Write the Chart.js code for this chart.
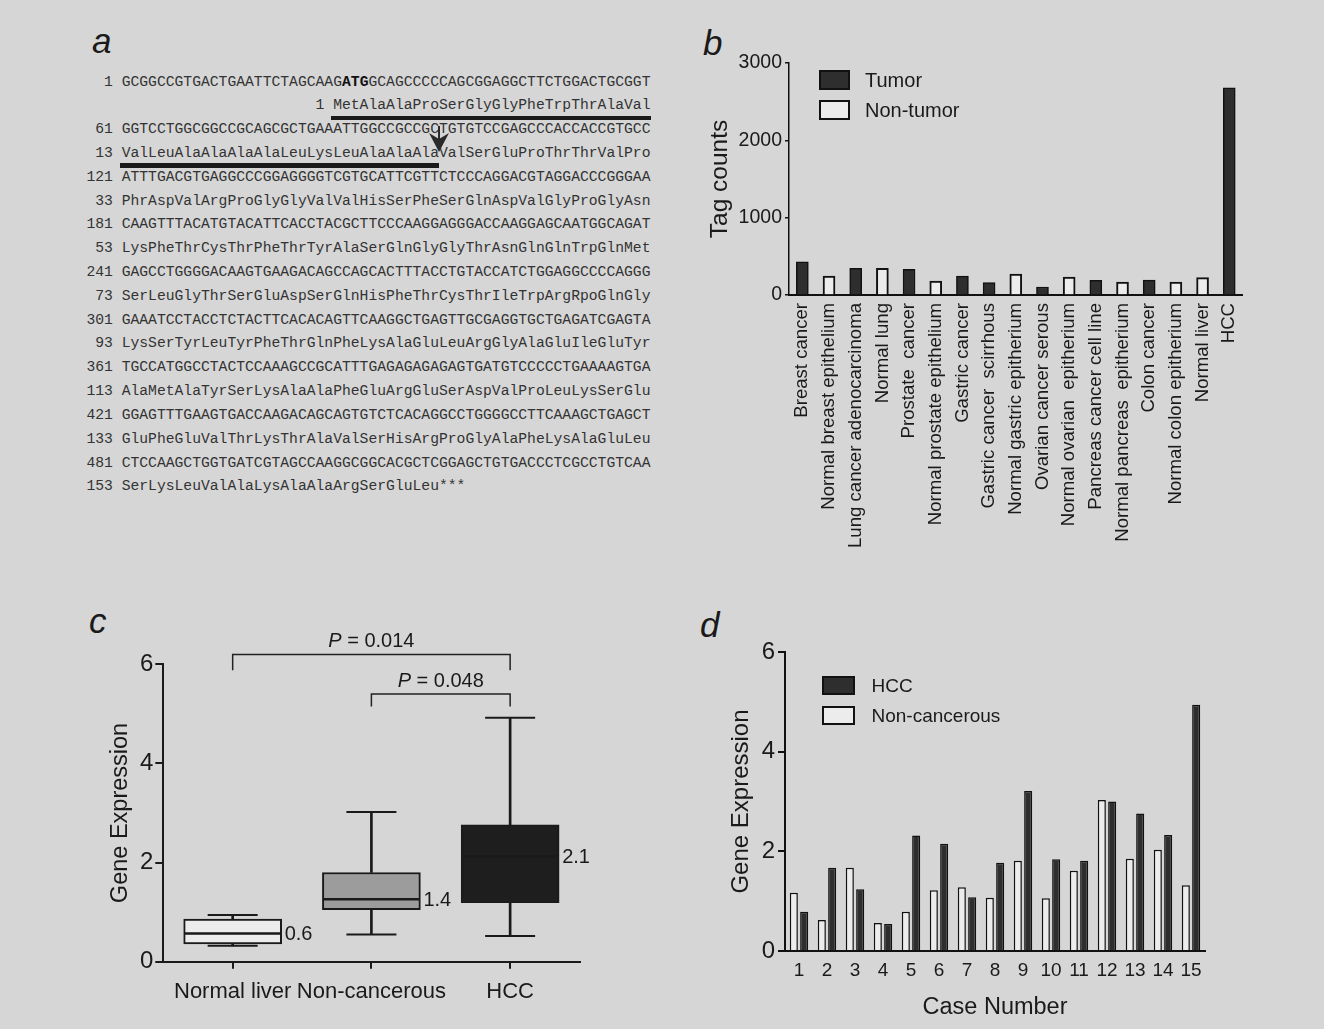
<!DOCTYPE html>
<html><head><meta charset="utf-8">
<script src="https://cdn.jsdelivr.net/npm/chart.js"></script>
<style>
html,body{margin:0;padding:0;}
body{width:1324px;height:1029px;background:#d6d6d6;position:relative;overflow:hidden;font-family:"Liberation Sans",Arial,sans-serif;color:#1a1a1a;}
.pl{position:absolute;font-style:italic;font-size:35px;line-height:35px;color:#1a1a1a;}
#seq{position:absolute;font-family:"Liberation Mono",monospace;font-size:14.7px;line-height:23.82px;white-space:pre;color:#333;}
#seq b{font-weight:bold;color:#111;}
.ul{position:absolute;background:#1a1a1a;height:4.5px;}
canvas{position:absolute;}
</style></head>
<body>
<div class="pl" style="left:92px;top:23px">a</div>
<div class="pl" style="left:703px;top:25px">b</div>
<div class="pl" style="left:89px;top:603px">c</div>
<div class="pl" style="left:700px;top:607px">d</div>
<div id="seq"></div>
<canvas id="chartB" width="560" height="560" style="left:700px;top:20px"></canvas>
<canvas id="chartC" width="540" height="420" style="left:90px;top:600px"></canvas>
<canvas id="chartD" width="560" height="425" style="left:690px;top:600px"></canvas>
<script>
// ---------- Panel a: sequence ----------
const seqNumbers = ['1','1','61','13','121','33','181','53','241','73','301','93','361','113','421','133','481','153'];
const seqTexts = [
  'GCGGCCGTGACTGAATTCTAGCAAGATGGCAGCCCCCAGCGGAGGCTTCTGGACTGCGGT',
  'MetAlaAlaProSerGlyGlyPheTrpThrAlaVal',
  'GGTCCTGGCGGCCGCAGCGCTGAAATTGGCCGCCGCTGTGTCCGAGCCCACCACCGTGCC',
  'ValLeuAlaAlaAlaAlaLeuLysLeuAlaAlaAlaValSerGluProThrThrValPro',
  'ATTTGACGTGAGGCCCGGAGGGGTCGTGCATTCGTTCTCCCAGGACGTAGGACCCGGGAA',
  'PhrAspValArgProGlyGlyValValHisSerPheSerGlnAspValGlyProGlyAsn',
  'CAAGTTTACATGTACATTCACCTACGCTTCCCAAGGAGGGACCAAGGAGCAATGGCAGAT',
  'LysPheThrCysThrPheThrTyrAlaSerGlnGlyGlyThrAsnGlnGlnTrpGlnMet',
  'GAGCCTGGGGACAAGTGAAGACAGCCAGCACTTTACCTGTACCATCTGGAGGCCCCAGGG',
  'SerLeuGlyThrSerGluAspSerGlnHisPheThrCysThrIleTrpArgRpoGlnGly',
  'GAAATCCTACCTCTACTTCACACAGTTCAAGGCTGAGTTGCGAGGTGCTGAGATCGAGTA',
  'LysSerTyrLeuTyrPheThrGlnPheLysAlaGluLeuArgGlyAlaGluIleGluTyr',
  'TGCCATGGCCTACTCCAAAGCCGCATTTGAGAGAGAGAGTGATGTCCCCCTGAAAAGTGA',
  'AlaMetAlaTyrSerLysAlaAlaPheGluArgGluSerAspValProLeuLysSerGlu',
  'GGAGTTTGAAGTGACCAAGACAGCAGTGTCTCACAGGCCTGGGGCCTTCAAAGCTGAGCT',
  'GluPheGluValThrLysThrAlaValSerHisArgProGlyAlaPheLysAlaGluLeu',
  'CTCCAAGCTGGTGATCGTAGCCAAGGCGGCACGCTCGGAGCTGTGACCCTCGCCTGTCAA',
  'SerLysLeuValAlaLysAlaAlaArgSerGluLeu***'
];
// layout of panel a
const seqLeft = 86.4, seqTop = 70.5, charW = 8.82, rowH = 23.82;
const seqIndent = {1: 24};
const seqBold = {0: [25, 28]};
(function(){
  const el = document.getElementById('seq');
  el.style.left = seqLeft + 'px'; el.style.top = seqTop + 'px';
  const esc = s => s.replace(/&/g,'&amp;').replace(/</g,'&lt;');
  const lines = seqTexts.map((t, i) => {
    const n = seqNumbers[i];
    let body;
    if (seqBold[i]) { const [a,b] = seqBold[i]; body = esc(t.slice(0,a)) + '<b>' + esc(t.slice(a,b)) + '</b>' + esc(t.slice(b)); }
    else body = esc(t);
    if (seqIndent[i] !== undefined) return ' '.repeat(4 + seqIndent[i] - (n.length + 1)) + n + ' ' + body;
    return n.padStart(3, ' ') + ' ' + body;
  });
  el.innerHTML = lines.join('\n');
  // underlines (signal peptide marking)
  const uls = [[1, 28, 64], [3, 4, 40]];
  uls.forEach(([row, c0, c1]) => {
    const d = document.createElement('div'); d.className = 'ul';
    d.style.left = (seqLeft + c0 * charW - 2) + 'px';
    d.style.width = ((c1 - c0) * charW + 2) + 'px';
    d.style.top = (seqTop + row * rowH + rowH - 2.5) + 'px';
    document.body.appendChild(d);
  });
  // arrow
  const ax = seqLeft + 40 * charW;
  const svg = document.createElementNS('http://www.w3.org/2000/svg','svg');
  svg.setAttribute('width','26'); svg.setAttribute('height','28');
  svg.style.position='absolute'; svg.style.left=(ax-13)+'px'; svg.style.top='126px';
  svg.innerHTML = '<path d="M13 0 V16" stroke="#2a2a2a" stroke-width="2"/><path d="M3 7 L13 26 L23 7 L13 13 Z" fill="#2a2a2a"/>';
  document.body.appendChild(svg);
})();

// ---------- Chart defaults ----------
Chart.defaults.font.family = '"Liberation Sans", Arial, sans-serif';
Chart.defaults.color = '#1a1a1a';
const plainTick = v => String(v);

const boxLegend = {
  id: 'boxLegend',
  afterDraw(chart, args, opts) {
    const {ctx, chartArea} = chart;
    ctx.save();
    opts.items.forEach((dsIndex, i) => {
      const ds = chart.data.datasets[dsIndex];
      const x = chartArea.left + opts.dx, y = chartArea.top + opts.dy + i * opts.gap;
      ctx.fillStyle = ds.backgroundColor; ctx.fillRect(x, y, opts.w, opts.h);
      ctx.lineWidth = opts.lw; ctx.strokeStyle = '#111'; ctx.strokeRect(x, y, opts.w, opts.h);
      ctx.font = opts.font; ctx.fillStyle = '#1a1a1a'; ctx.textBaseline = 'middle'; ctx.textAlign = 'left';
      ctx.fillText(ds.label, x + opts.textDx, y + opts.h / 2 + 1);
    });
    ctx.restore();
  }
};

// ---------- Panel b ----------
const tagCategories = ['Breast cancer','Normal breast epithelium','Lung cancer adenocarcinoma','Normal lung','Prostate  cancer','Normal prostate epithelium','Gastric cancer','Gastric cancer  scirrhous','Normal gastric epitherium','Ovarian cancer serous','Normal ovarian  epitherium','Pancreas cancer cell line','Normal pancreas  epitherium','Colon cancer','Normal colon epitherium','Normal liver','HCC'];
const tumorCounts    = [430, null, 345, null, 332, null, 245, 160, null, 103, null, 190, null, 192, null, null, 2680];
const nonTumorCounts = [null, 245, null, 345, null, 181, null, null, 270, null, 233, null, 166, null, 166, 224, null];
const tagTicks = [0, 1000, 2000, 3000];

new Chart(document.getElementById('chartB'), {
  type: 'bar',
  data: { labels: tagCategories, datasets: [
    {label:'Tumor', data: tumorCounts, backgroundColor:'#2e2e2e', borderColor:'#111', borderWidth:1.5, grouped:false, barThickness:12},
    {label:'Non-tumor', data: nonTumorCounts, backgroundColor:'#ececec', borderColor:'#111', borderWidth:2, grouped:false, barThickness:12}
  ]},
  options: {
    responsive:false, animation:false,
    layout:{padding:{left:0, top:43, right:15, bottom:0}},
    plugins:{legend:{display:false}, tooltip:{enabled:false},
      boxLegend:{items:[0,1], dx:31, dy:8, gap:30, w:29, h:18, lw:2, textDx:45, font:'20px "Liberation Sans", Arial, sans-serif'}},
    scales:{
      x:{ offset:true, grid:{display:false, drawTicks:false}, border:{display:true, color:'#111', width:2},
          ticks:{autoSkip:false, maxRotation:90, minRotation:90, padding:8, font:{size:18.6}},
          afterFit: s => { s.height = 285; } },
      y:{ min:0, max:3000, afterBuildTicks: s => { s.ticks = tagTicks.map(v => ({value:v})); },
          grid:{drawOnChartArea:false, drawTicks:true, tickLength:4, color:'#111', lineWidth:1.5},
          border:{display:true, color:'#111', width:1.5},
          ticks:{padding:3, font:{size:19.5}, callback: plainTick},
          title:{display:true, text:'Tag counts', font:{size:24.5}, padding:{top:5.4, bottom:0}},
          afterFit: s => { s.width = 89; } }
    }
  },
  plugins:[boxLegend]
});

// ---------- Panel c ----------
const exprGroups = ['Normal liver','Non-cancerous','HCC'];
const exprMin    = [0.32, 0.55, 0.52];
const exprQ1     = [0.36, 1.05, 1.19];
const exprMedian = [0.57, 1.26, 2.12];
const exprQ3     = [0.86, 1.80, 2.76];
const exprMax    = [0.94, 3.02, 4.92];
const exprMeanLabels = ['0.6','1.4','2.1'];
const exprTicks = [0, 2, 4, 6];
const pValues = ['0.014','0.048'];
const pPairs = [['Normal liver','HCC'],['Non-cancerous','HCC']];
// annotation geometry (data units)
const bracketGeom = [{top:6.2, foot:5.88}, {top:5.4, foot:5.15}];

const bracketDatasets = pPairs.map((pair, i) => ({
  type:'line', label:'P bracket ' + i,
  data:[{x:pair[0], y:bracketGeom[i].foot},{x:pair[0], y:bracketGeom[i].top},{x:pair[1], y:bracketGeom[i].top},{x:pair[1], y:bracketGeom[i].foot}],
  borderColor:'#222', borderWidth:1.5, pointRadius:0, tension:0, clip:false, order:0, fill:false
}));

const boxLabels = {
  id:'boxLabels',
  afterDatasetsDraw(chart) {
    const {ctx, scales:{x, y}} = chart;
    const boxMeta = chart.getDatasetMeta(3);
    ctx.save(); ctx.fillStyle = '#1a1a1a'; ctx.textBaseline = 'middle'; ctx.textAlign = 'left';
    ctx.font = '20px "Liberation Sans", Arial, sans-serif';
    exprMeanLabels.forEach((t, i) => {
      const bar = boxMeta.data[i];
      ctx.fillText(t, bar.x + bar.width / 2 + 3, y.getPixelForValue(exprMedian[i]) + 1);
    });
    pValues.forEach((p, i) => {
      const x0 = x.getPixelForValue(exprGroups.indexOf(pPairs[i][0]));
      const x1 = x.getPixelForValue(exprGroups.indexOf(pPairs[i][1]));
      const cx = (x0 + x1) / 2, cy = y.getPixelForValue(bracketGeom[i].top) - 13;
      const fi = 'italic 20px "Liberation Sans", Arial, sans-serif', fr = '20px "Liberation Sans", Arial, sans-serif';
      ctx.font = fi; const wP = ctx.measureText('P').width;
      const rest = ' = ' + p;
      ctx.font = fr; const wR = ctx.measureText(rest).width;
      const sx = cx - (wP + wR) / 2;
      ctx.font = fi; ctx.fillText('P', sx, cy);
      ctx.font = fr; ctx.fillText(rest, sx + wP, cy);
    });
    ctx.restore();
  }
};

new Chart(document.getElementById('chartC'), {
  type:'bar',
  data:{ labels: exprGroups, datasets:[
    {type:'line', label:'median', data: exprMedian, showLine:false, pointStyle:'line', pointRadius:48, pointBorderWidth:2.5, pointBorderColor:'#1a1a1a', order:0},
    {type:'line', label:'min', data: exprMin, showLine:false, pointStyle:'line', pointRadius:25, pointBorderWidth:2, pointBorderColor:'#1a1a1a', order:0},
    {type:'line', label:'max', data: exprMax, showLine:false, pointStyle:'line', pointRadius:25, pointBorderWidth:2, pointBorderColor:'#1a1a1a', order:0},
    {label:'box', data: exprQ1.map((q, i) => [q, exprQ3[i]]), backgroundColor:['#ececec','#9c9c9c','#1e1e1e'], borderColor:'#1a1a1a', borderWidth:2, borderSkipped:false, barThickness:98, grouped:false, order:1},
    {label:'whisker low', data: exprMin.map((m, i) => [m, exprQ1[i]]), backgroundColor:'#1a1a1a', borderWidth:0, barThickness:2, grouped:false, order:2},
    {label:'whisker high', data: exprQ3.map((q, i) => [q, exprMax[i]]), backgroundColor:'#1a1a1a', borderWidth:0, barThickness:2, grouped:false, order:2},
    ...bracketDatasets
  ]},
  options:{
    responsive:false, animation:false,
    layout:{padding:{left:0, top:64.3, right:28, bottom:0}},
    plugins:{legend:{display:false}, tooltip:{enabled:false}},
    scales:{
      x:{ offset:true, grid:{drawOnChartArea:false, drawTicks:true, tickLength:7, offset:false, color:'#1a1a1a', lineWidth:2},
          border:{display:true, color:'#1a1a1a', width:2},
          ticks:{padding:10, font:{size:22}, maxRotation:0, minRotation:0, autoSkip:false},
          afterFit: s => { s.height = 58.3; } },
      y:{ min:0, max:6, afterBuildTicks: s => { s.ticks = exprTicks.map(v => ({value:v})); },
          grid:{drawOnChartArea:false, drawTicks:true, tickLength:8, color:'#1a1a1a', lineWidth:2},
          border:{display:true, color:'#1a1a1a', width:2},
          ticks:{padding:2, font:{size:24}, callback: plainTick},
          title:{display:true, text:'Gene Expression', font:{size:23.5}, padding:{top:16, bottom:0}},
          afterFit: s => { s.width = 73.3; } }
    }
  },
  plugins:[boxLabels]
});

// ---------- Panel d ----------
const caseNumbers = ['1','2','3','4','5','6','7','8','9','10','11','12','13','14','15'];
const nonCancerExpr = [1.17, 0.62, 1.67, 0.56, 0.79, 1.22, 1.28, 1.07, 1.81, 1.06, 1.61, 3.03, 1.85, 2.03, 1.32];
const hccExpr       = [0.79, 1.67, 1.24, 0.54, 2.32, 2.15, 1.08, 1.77, 3.21, 1.84, 1.81, 3.00, 2.76, 2.33, 4.94];
const caseTicks = [0, 2, 4, 6];

new Chart(document.getElementById('chartD'), {
  type:'bar',
  data:{ labels: caseNumbers, datasets:[
    {label:'Non-cancerous', data: nonCancerExpr, backgroundColor:'#ececec', borderColor:'#111', borderWidth:1.5, categoryPercentage:0.74, barPercentage:0.78},
    {label:'HCC', data: hccExpr, backgroundColor:'#2e2e2e', borderColor:'#111', borderWidth:1.5, categoryPercentage:0.74, barPercentage:0.78}
  ]},
  options:{
    responsive:false, animation:false,
    layout:{padding:{left:0, top:52, right:45, bottom:0}},
    plugins:{legend:{display:false}, tooltip:{enabled:false},
      boxLegend:{items:[1,0], dx:38, dy:25, gap:30, w:31, h:17, lw:2, textDx:48.5, font:'19px "Liberation Sans", Arial, sans-serif'}},
    scales:{
      x:{ offset:true, grid:{display:false, drawTicks:false}, border:{display:true, color:'#111', width:2},
          ticks:{padding:8.5, font:{size:19}, maxRotation:0, autoSkip:false},
          title:{display:true, text:'Case Number', font:{size:23.5}, padding:{top:0, bottom:3}},
          afterFit: s => { s.height = 74; } },
      y:{ min:0, max:6, afterBuildTicks: s => { s.ticks = caseTicks.map(v => ({value:v})); },
          grid:{drawOnChartArea:false, drawTicks:true, tickLength:7, color:'#111', lineWidth:2},
          border:{display:true, color:'#111', width:2},
          ticks:{padding:3, font:{size:24}, callback: plainTick},
          title:{display:true, text:'Gene Expression', font:{size:24}, padding:{top:37.3, bottom:0}},
          afterFit: s => { s.width = 95; } }
    }
  },
  plugins:[boxLegend]
});
</script>
</body></html>
